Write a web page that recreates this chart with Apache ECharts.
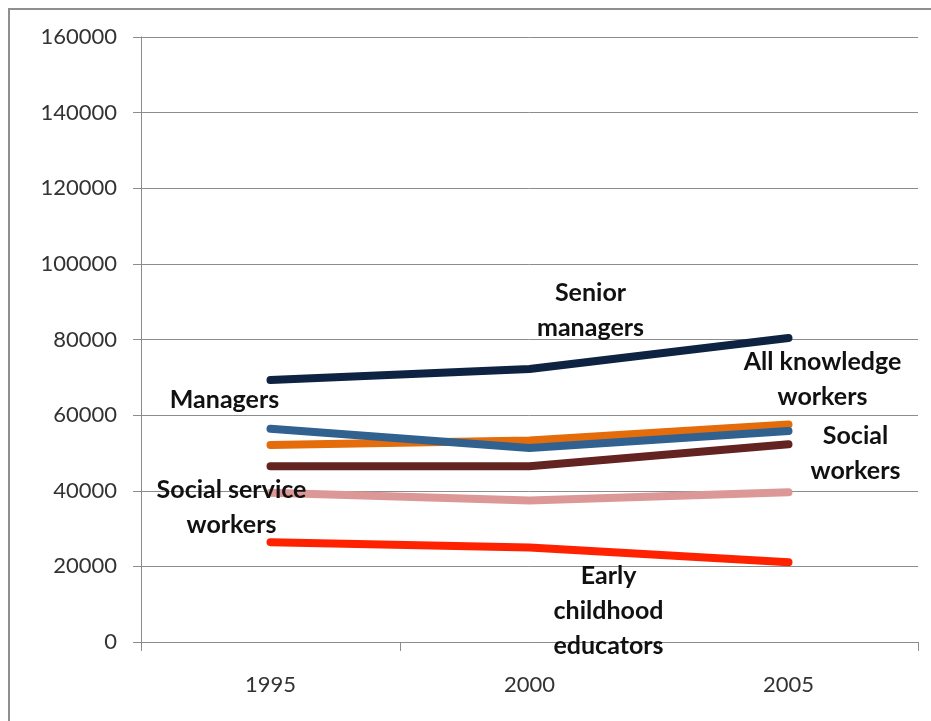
<!DOCTYPE html>
<html>
<head>
<meta charset="utf-8">
<style>
  html, body { margin: 0; padding: 0; background: #ffffff; }
  #chart { width: 931px; height: 721px; }
</style>
<script src="https://cdn.jsdelivr.net/npm/echarts@6/dist/echarts.min.js"></script>
</head>
<body>
<div id="chart"></div>
<script>
// Average earnings by occupation group
const years = ['1995', '2000', '2005'];
const yTicks = [0, 20000, 40000, 60000, 80000, 100000, 120000, 140000, 160000];

const seniorManagers = [69300, 72200, 80400];
const allKnowledgeWorkers = [52100, 53300, 57500];
const managers = [56400, 51300, 55800];
const socialWorkers = [46500, 46500, 52300];
const socialServiceWorkers = [39500, 37400, 39600];
const earlyChildhoodEducators = [26400, 25000, 21100];

const seriesDefs = [
  { name: 'Senior managers', data: seniorManagers, color: '#0e2241' },
  { name: 'All knowledge workers', data: allKnowledgeWorkers, color: '#e46c0a' },
  { name: 'Managers', data: managers, color: '#31618f' },
  { name: 'Social workers', data: socialWorkers, color: '#632320' },
  { name: 'Social service workers', data: socialServiceWorkers, color: '#dc9896' },
  { name: 'Early childhood educators', data: earlyChildhoodEducators, color: '#ff2200' }
];

// Series name labels: text, anchor point (series index, year index), pixel offset of text centre
const nameLabels = [
  { text: 'Senior\nmanagers', series: 0, at: 1, dx: 61, dy: -59 },
  { text: 'All knowledge\nworkers', series: 1, at: 2, dx: 34, dy: -45 },
  { text: 'Managers', series: 2, at: 0, dx: -46, dy: -29 },
  { text: 'Social\nworkers', series: 1, at: 2, dx: 67, dy: 29 },
  { text: 'Social service\nworkers', series: 4, at: 0, dx: -39, dy: 15 },
  { text: 'Early\nchildhood\neducators', series: 5, at: 1, dx: 79, dy: 63 }
];

const gridColor = '#8c8c8c';
const chart = echarts.init(document.getElementById('chart'), null, { renderer: 'canvas' });

chart.setOption({
  animation: false,
  backgroundColor: '#ffffff',
  grid: { left: 141, right: 13, top: 37, bottom: 79, containLabel: false },
  xAxis: {
    type: 'category',
    data: years,
    boundaryGap: true,
    axisLine: { lineStyle: { color: gridColor, width: 1 } },
    axisTick: { show: true, length: 9, alignWithLabel: false, lineStyle: { color: gridColor } },
    axisLabel: { margin: 32, fontFamily: 'Lato', fontSize: 22, color: '#333333' },
    splitLine: { show: false }
  },
  yAxis: {
    type: 'value',
    min: yTicks[0],
    max: yTicks[yTicks.length - 1],
    interval: yTicks[1] - yTicks[0],
    axisLine: { show: true, lineStyle: { color: gridColor, width: 1 } },
    axisTick: { show: true, length: 8, lineStyle: { color: gridColor } },
    axisLabel: {
      margin: 24, fontFamily: 'Lato', fontSize: 22, color: '#333333',
      formatter: v => String(v)
    },
    splitLine: { show: true, lineStyle: { color: gridColor, width: 1 } }
  },
  series: seriesDefs.map(s => ({
    type: 'line',
    name: s.name,
    data: s.data,
    symbol: 'none',
    smooth: false,
    lineStyle: { color: s.color, width: 8, cap: 'round', join: 'round' },
    z: 3
  }))
});

const graphics = [{
  type: 'rect',
  shape: { x: 9, y: 9, width: 960, height: 760 },
  style: { fill: 'none', stroke: '#8f8f8f', lineWidth: 2 },
  silent: true,
  z: 0
}];

nameLabels.forEach(l => {
  const p = chart.convertToPixel({ seriesIndex: l.series }, [l.at, seriesDefs[l.series].data[l.at]]);
  graphics.push({
    type: 'text',
    x: p[0] + l.dx,
    y: p[1] + l.dy,
    z: 10,
    style: {
      text: l.text,
      fontFamily: 'Lato',
      fontWeight: 'bold',
      fontSize: 25,
      lineHeight: 35,
      fill: '#111111',
      align: 'center',
      verticalAlign: 'middle'
    }
  });
});

chart.setOption({ graphic: graphics });
</script>
</body>
</html>
